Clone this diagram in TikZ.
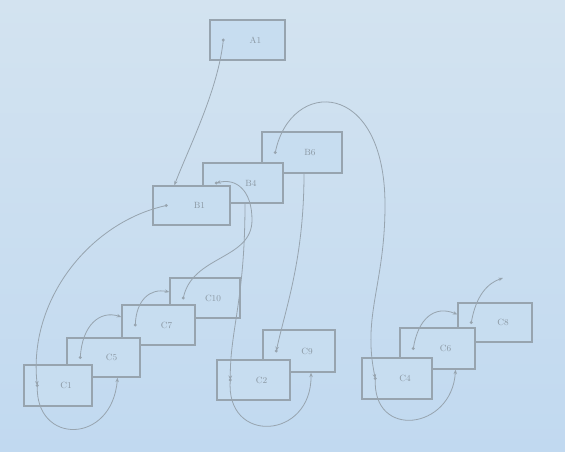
\documentclass[tikz,border=0pt]{standalone}
\usetikzlibrary{arrows.meta,calc}
\definecolor{bgmid}{HTML}{C7DDF0}
\definecolor{bgtop}{HTML}{D3E3F0}
\definecolor{bgbot}{HTML}{C1D9F0}
\definecolor{ink}{HTML}{97A4AF}
\definecolor{txt}{HTML}{8A97A2}
\tikzset{
  cbox/.style={draw=ink, line width=1.4pt, fill=bgmid, inner sep=0pt},
  lab/.style={text=txt, font=\small},
  ptr/.style={draw=ink, line width=0.8pt, -{Stealth[length=4.5pt,width=3.5pt]}},
}
\newcommand\mkbox[6]{%
  \node[cbox, minimum width=#4pt, minimum height=#5pt] (#1) at (#2,#3) {};
  \node[lab] (#1-l) at ($(#1.center)+(8,0)$) {#6};
  \coordinate (#1-d) at ($(#1.west)+(14,0)$);
  \fill[ink] (#1-d) circle (1.6pt);
}
\begin{document}
\begin{tikzpicture}[x=1pt,y=-1pt]
\shade[top color=bgtop, middle color=bgmid, bottom color=bgbot] (0,0) rectangle (565,451);
\useasboundingbox (0,0) rectangle (565,451);
% boxes, back to front
\mkbox{A1}{247.5}{40}{75}{40}{A1}
\mkbox{B6}{302}{152.5}{80}{41}{B6}
\mkbox{B4}{243}{183}{80}{40}{B4}
\mkbox{B1}{191.5}{205.5}{77}{39}{B1}
\mkbox{C10}{205}{298}{70}{40}{C10}
\mkbox{C7}{158.5}{325}{73}{40}{C7}
\mkbox{C5}{103.5}{357.5}{73}{39}{C5}
\mkbox{C1}{58}{385.5}{68}{41}{C1}
\mkbox{C9}{299}{351}{72}{42}{C9}
\mkbox{C2}{253.5}{380}{73}{40}{C2}
\mkbox{C8}{495}{322.5}{74}{39}{C8}
\mkbox{C6}{437.5}{348.5}{75}{41}{C6}
\mkbox{C4}{397}{378.5}{70}{41}{C4}
% helper coordinates
\coordinate (B1t) at ($(B1.north west)+(22,0)$);
\coordinate (C5b) at ($(C5.south)+(14,0)$);
\coordinate (C7w) at ($(C7.west)+(0,-8)$);
\coordinate (C10w) at ($(C10.west)+(0,-6)$);
\coordinate (k1) at (252,220);
\coordinate (B4s) at ($(B4.south)+(2,0)$);
\coordinate (C9b) at ($(C9.south)+(12,0)$);
\coordinate (B6s) at ($(B6.south)+(2,0)$);
\coordinate (k2) at (385,205);
\coordinate (C6b) at ($(C6.south)+(18,0)$);
\coordinate (C8w) at ($(C8.west)+(0,-8)$);
\coordinate (e1) at (503,278);
% connectors
\draw[ptr] (A1-d) .. controls (218,90) and (190,145) .. (B1t);
\draw[ptr] (B1-d) .. controls (90,222) and (28,300) .. (C1-d);
\draw[ptr] (C1-d) .. controls (35,445) and (112,445) .. (C5b);
\draw[ptr] (C5-d) .. controls (82,325) and (100,310) .. (C7w);
\draw[ptr] (C7-d) .. controls (136,300) and (150,288) .. (C10w);
\draw[ptr] (C10-d) .. controls (192,255) and (252,260) .. (k1) .. controls (252,190) and (236,178) .. (B4-d);
\draw[ptr] (B4s) .. controls (245,300) and (230,330) .. (C2-d);
\draw[ptr] (C2-d) .. controls (225,445) and (312,440) .. (C9b);
\draw[ptr] (B6s) .. controls (304,260) and (285,310) .. (C9-d);
\draw[ptr] (B6-d) .. controls (290,78) and (385,78) .. (k2) .. controls (385,285) and (362,315) .. (C4-d);
\draw[ptr] (C4-d) .. controls (372,440) and (452,430) .. (C6b);
\draw[ptr] (C6-d) .. controls (418,318) and (435,305) .. (C8w);
\draw[ptr] (C8-d) .. controls (476,295) and (488,283) .. (e1);
\end{tikzpicture}
\end{document}
